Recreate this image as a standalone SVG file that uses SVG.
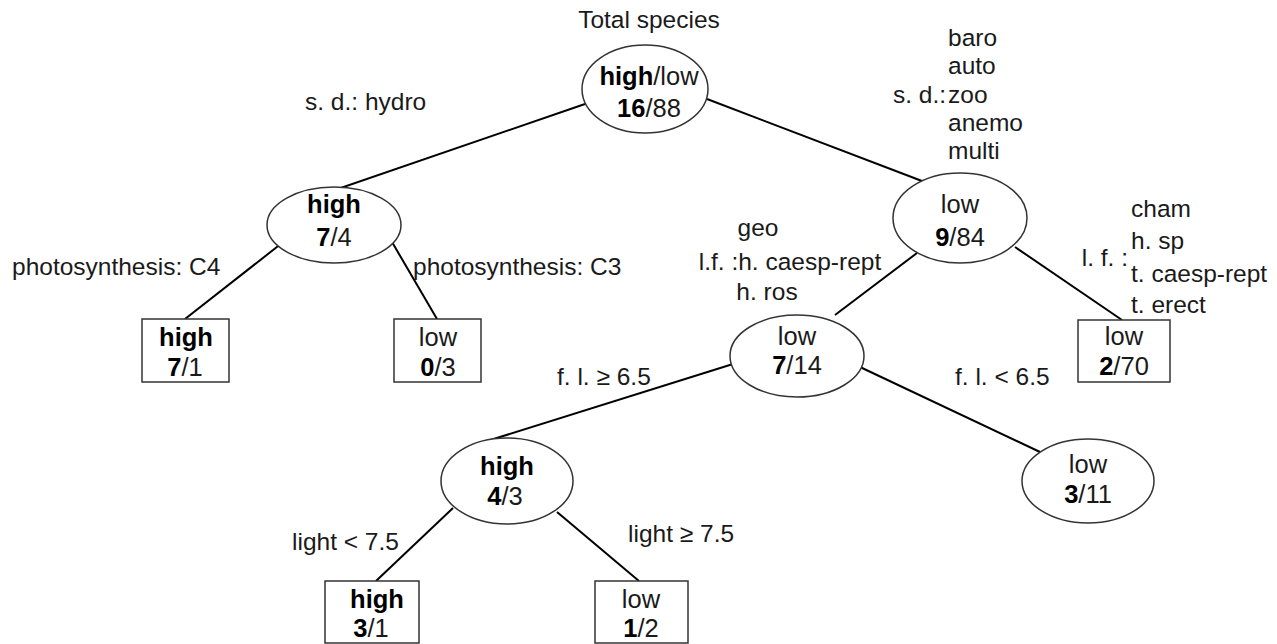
<svg xmlns="http://www.w3.org/2000/svg" width="1277" height="644" viewBox="0 0 1277 644">
  <style>
    text { font-family: "Liberation Sans", Arial, sans-serif; font-size: 24.5px; fill: #1a1a1a; }
    .n { text-anchor: middle; font-size: 25.5px; }
    .m { text-anchor: middle; }
    .e { text-anchor: end; }
    .b { font-weight: bold; fill: #000; }
    .node ellipse, .node rect { fill: #fff; stroke: #333; stroke-width: 1.5; }
    .edges line { stroke: #000; stroke-width: 2; }
  </style>
  <rect width="1277" height="644" fill="#fff"/>

  <!-- tree edges -->
  <g id="edges" class="edges">
    <line x1="585" y1="104" x2="297" y2="203"/>
    <line x1="707" y1="99" x2="922" y2="181"/>
    <line x1="282" y1="243" x2="185" y2="319"/>
    <line x1="392" y1="242" x2="437" y2="319"/>
    <line x1="917" y1="253" x2="835" y2="315"/>
    <line x1="1015" y1="247" x2="1122" y2="320"/>
    <line x1="733" y1="364" x2="468" y2="447"/>
    <line x1="860" y1="367" x2="1040" y2="452"/>
    <line x1="453" y1="508" x2="376" y2="581"/>
    <line x1="557" y1="512" x2="639" y2="581"/>
  </g>

  <!-- split labels -->
  <g id="labels">
    <text x="649" y="28" class="m">Total species</text>
    <text x="305" y="110">s. d.: hydro</text>
    <text x="948" y="46">baro</text>
    <text x="948" y="74">auto</text>
    <text x="946" y="103" class="e">s. d.:</text>
    <text x="948" y="103">zoo</text>
    <text x="948" y="131">anemo</text>
    <text x="948" y="159">multi</text>
    <text x="12" y="275">photosynthesis: C4</text>
    <text x="413" y="275">photosynthesis: C3</text>
    <text x="758" y="236" class="m">geo</text>
    <text x="790" y="270" class="m">l.f. :h. caesp-rept</text>
    <text x="767" y="300" class="m">h. ros</text>
    <text x="1131" y="217">cham</text>
    <text x="1131" y="249">h. sp</text>
    <text x="1128" y="266" class="e">l. f. :</text>
    <text x="1131" y="282">t. caesp-rept</text>
    <text x="1131" y="313">t. erect</text>
    <text x="557" y="385">f. l. ≥ 6.5</text>
    <text x="955" y="385">f. l. &lt; 6.5</text>
    <text x="292" y="550">light &lt; 7.5</text>
    <text x="628" y="542">light ≥ 7.5</text>
  </g>

  <g id="root" class="node">
    <ellipse cx="645" cy="89" rx="63" ry="44"/>
    <text class="n" x="649" y="85"><tspan class="b">high</tspan>/low</text>
    <text class="n" x="649" y="117"><tspan class="b">16</tspan>/88</text>
  </g>

  <g id="n_hydro" class="node">
    <ellipse cx="334" cy="225" rx="67" ry="38"/>
    <text class="n b" x="334" y="213">high</text>
    <text class="n" x="334" y="246"><tspan class="b">7</tspan>/4</text>
  </g>

  <g id="leaf_c4" class="node">
    <rect x="142" y="319" width="87" height="63"/>
    <text class="n b" x="186" y="346">high</text>
    <text class="n" x="185" y="376"><tspan class="b">7</tspan>/1</text>
  </g>

  <g id="leaf_c3" class="node">
    <rect x="394" y="319" width="87" height="63"/>
    <text class="n" x="438" y="346">low</text>
    <text class="n" x="438" y="376"><tspan class="b">0</tspan>/3</text>
  </g>

  <g id="n_other" class="node">
    <ellipse cx="960" cy="218" rx="67" ry="45"/>
    <text class="n" x="960" y="213">low</text>
    <text class="n" x="960" y="246"><tspan class="b">9</tspan>/84</text>
  </g>

  <g id="leaf_lf" class="node">
    <rect x="1078" y="320" width="92" height="62"/>
    <text class="n" x="1124" y="345">low</text>
    <text class="n" x="1124" y="375"><tspan class="b">2</tspan>/70</text>
  </g>

  <g id="n_lf" class="node">
    <ellipse cx="797" cy="356" rx="67" ry="41"/>
    <text class="n" x="797" y="345">low</text>
    <text class="n" x="797" y="374"><tspan class="b">7</tspan>/14</text>
  </g>

  <g id="n_fl_hi" class="node">
    <ellipse cx="507" cy="481" rx="66" ry="43"/>
    <text class="n b" x="507" y="475">high</text>
    <text class="n" x="505" y="505"><tspan class="b">4</tspan>/3</text>
  </g>

  <g id="n_fl_lo" class="node">
    <ellipse cx="1088" cy="481" rx="66" ry="42"/>
    <text class="n" x="1088" y="473">low</text>
    <text class="n" x="1088" y="503"><tspan class="b">3</tspan>/11</text>
  </g>

  <g id="leaf_light_lo" class="node">
    <rect x="325" y="581" width="94" height="62"/>
    <text class="n b" x="377" y="608">high</text>
    <text class="n" x="371" y="637"><tspan class="b">3</tspan>/1</text>
  </g>

  <g id="leaf_light_hi" class="node">
    <rect x="595" y="581" width="93" height="62"/>
    <text class="n" x="641" y="608">low</text>
    <text class="n" x="641" y="637"><tspan class="b">1</tspan>/2</text>
  </g>
</svg>
